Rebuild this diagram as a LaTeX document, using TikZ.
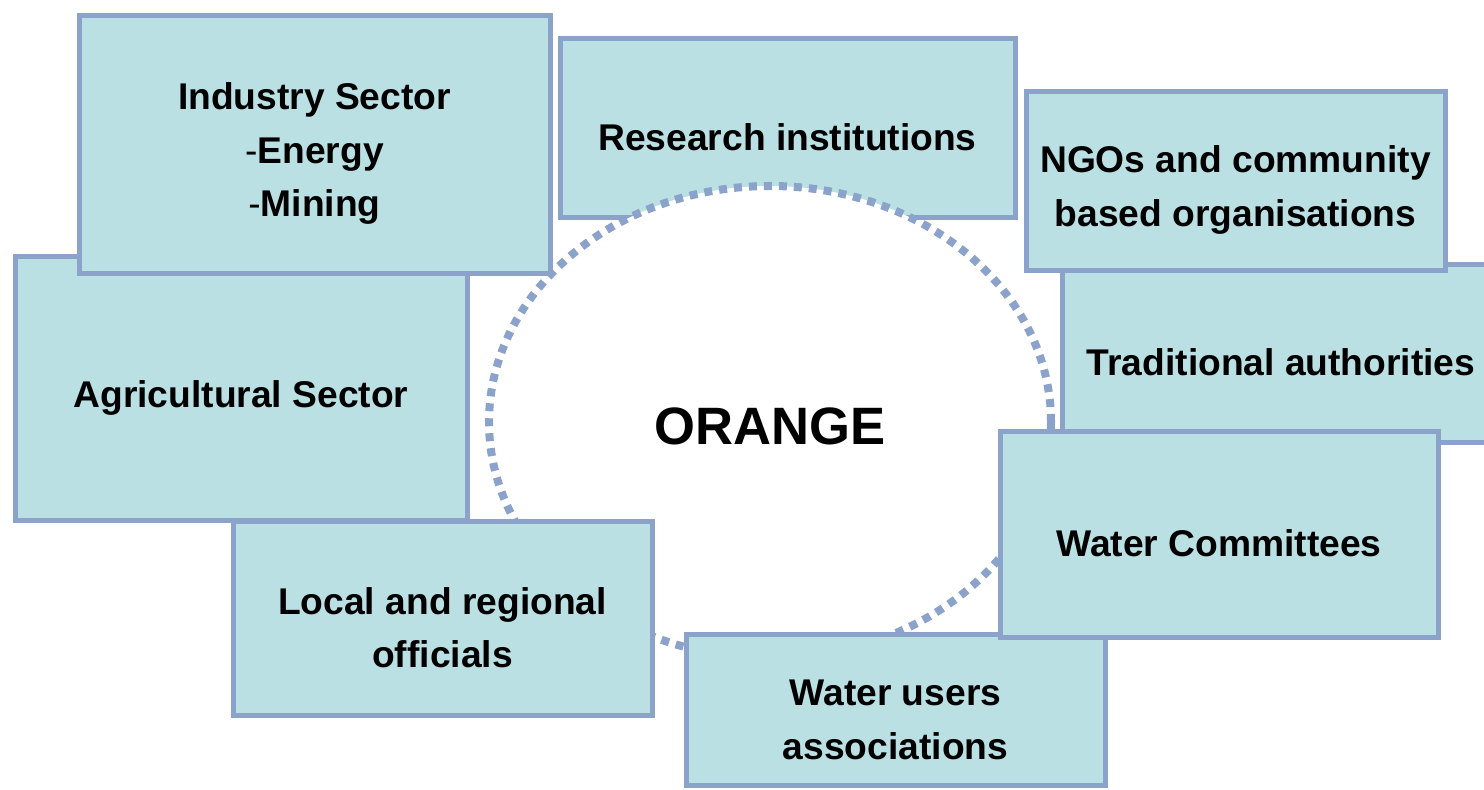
\documentclass[tikz,border=0pt]{standalone}
\usepackage{fontspec}
\setmainfont{Liberation Sans}
\usetikzlibrary{shapes.geometric}
\definecolor{boxfill}{RGB}{186,224,227}
\definecolor{boxline}{RGB}{139,162,202}
\newcommand\toplead{\rule{0pt}{22pt}}

\begin{document}
\begin{tikzpicture}[x=0.5pt, y=-0.5pt,
  actor/.style={draw=boxline, line width=2.5pt, fill=boxfill, align=center, inner sep=0pt,
    font=\fontsize{18.6}{26.8}\selectfont\bfseries},
  basin/.style={ellipse, draw=boxline, fill=white, line width=4pt, dash pattern=on 4pt off 3.5pt,
    inner sep=0pt, font=\fontsize{26.3}{30}\selectfont\bfseries,
    execute at begin node={\rule{0pt}{23pt}}}]
  \useasboundingbox (0,0) rectangle (1484,790);
  \clip (0,0) rectangle (1484,790);

  % upper left and top
  \node[actor, minimum width=226pt, minimum height=132pt] (agri) at (241,389) {\toplead Agricultural Sector};
  \node[actor, minimum width=235.5pt, minimum height=129pt] (industry) at (314.5,145)
    {\toplead Industry Sector\\{\mdseries-}Energy\\{\mdseries-}Mining};
  \node[actor, minimum width=227.5pt, minimum height=89.5pt] (research) at (787.5,128.5) {\toplead Research institutions};

  % the basin
  \node[basin, minimum width=281pt, minimum height=236pt] (orange) at (770,422) {ORANGE};

  % right side
  \node[actor, minimum width=219pt, minimum height=89pt] (trad) at (1281,354) {\toplead Traditional authorities};
  \node[actor, minimum width=209.5pt, minimum height=89.5pt] (ngo) at (1235.5,181.5)
    {\toplead NGOs and community\\based organisations};

  % bottom
  \node[actor, minimum width=209.5pt, minimum height=75.5pt] (users) at (895.5,710.5)
    {\toplead Water users\\associations};
  \node[actor, minimum width=219pt, minimum height=103pt] (committees) at (1219,535) {\toplead Water Committees};
  \node[actor, minimum width=209.5pt, minimum height=97pt] (officials) at (442.5,619)
    {\toplead Local and regional\\officials};
\end{tikzpicture}
\end{document}
